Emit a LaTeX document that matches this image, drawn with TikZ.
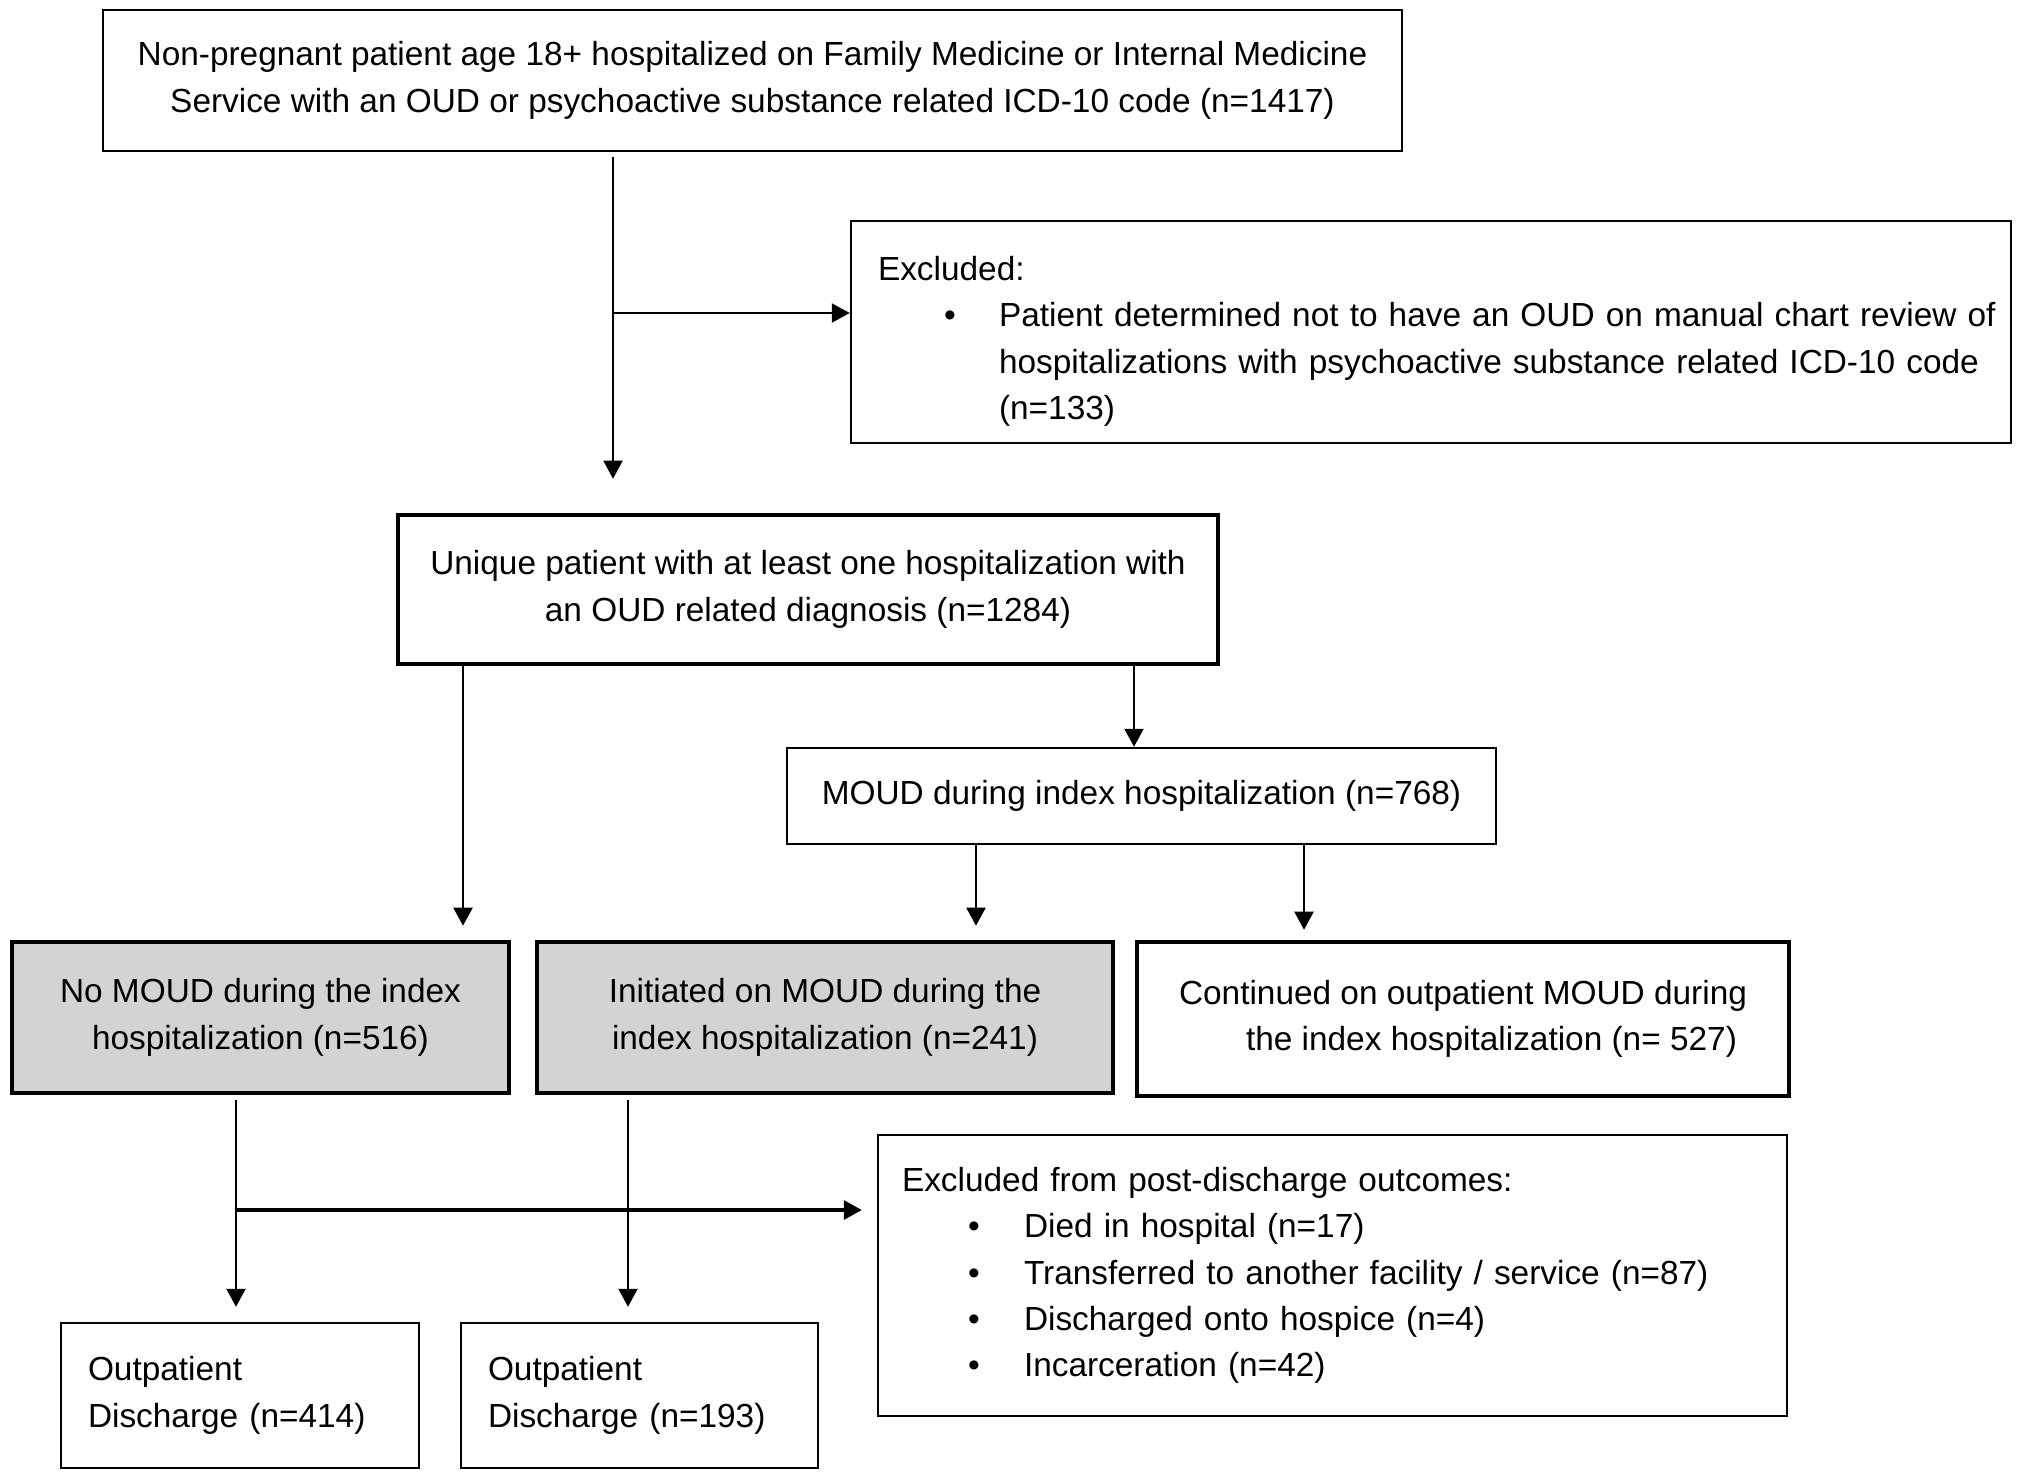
\documentclass[tikz,border=0pt]{standalone}
\usepackage{fontspec}
\setmainfont{Liberation Sans}
\usetikzlibrary{arrows.meta}
\definecolor{boxgray}{RGB}{211,211,211}
\begin{document}
\begin{tikzpicture}[
  box/.style={draw, line width=0.7pt, inner sep=0pt, font=\fontsize{9.5pt}{13.2pt}\selectfont},
  heavy/.style={box, line width=1.3pt},
  arr/.style={draw, line width=0.6pt, -{Triangle[length=1.8mm,width=1.9mm]}}
]
\useasboundingbox (0,0) rectangle (20.21,-14.78);
\node[box, minimum width=12.99cm, minimum height=1.41cm, align=center] (1) at (7.525,-0.805) {Non-pregnant patient age 18+ hospitalized on Family Medicine or Internal Medicine\\Service with an OUD or psychoactive substance related ICD-10 code (n=1417)};
\node[box, minimum width=11.6cm, minimum height=2.22cm, text width=11.06cm, align=left] (2) at (14.31,-3.32) {\rule{0pt}{0.43cm}Excluded:\\\hspace*{0.66cm}\makebox[0.55cm][l]{\textbullet}\mbox{Patient determined not to have an OUD on manual chart review of}\\\hspace*{1.21cm}\mbox{hospitalizations with psychoactive substance related ICD-10 code}\\\hspace*{1.21cm}(n=133)};
\node[heavy, minimum width=8.2cm, minimum height=1.49cm, align=center] (3) at (8.08,-5.895) {Unique patient with at least one hospitalization with\\an OUD related diagnosis (n=1284)};
\node[box, minimum width=7.09cm, minimum height=0.96cm, align=center] (4) at (11.415,-7.96) {MOUD during index hospitalization (n=768)};
\node[heavy, fill=boxgray, minimum width=4.97cm, minimum height=1.51cm, align=center] (5) at (2.605,-10.175) {No MOUD during the index\\hospitalization (n=516)};
\node[heavy, fill=boxgray, minimum width=5.76cm, minimum height=1.51cm, align=center] (6) at (8.25,-10.175) {Initiated on MOUD during the\\index hospitalization (n=241)};
\node[heavy, minimum width=6.52cm, minimum height=1.54cm, align=center] (7) at (14.63,-10.19) {Continued on outpatient MOUD during\\\hspace*{0.57cm}the index hospitalization (n= 527)};
\node[box, minimum width=9.09cm, minimum height=2.81cm, text width=8.61cm, align=left] (8) at (13.325,-12.755) {Excluded from post-discharge outcomes:\\\hspace*{0.66cm}\makebox[0.56cm][l]{\textbullet}Died in hospital (n=17)\\\hspace*{0.66cm}\makebox[0.56cm][l]{\textbullet}Transferred to another facility / service (n=87)\\\hspace*{0.66cm}\makebox[0.56cm][l]{\textbullet}Discharged onto hospice (n=4)\\\hspace*{0.66cm}\makebox[0.56cm][l]{\textbullet}Incarceration (n=42)};
\node[box, minimum width=3.58cm, minimum height=1.45cm, text width=3.04cm, align=left] (9) at (2.4,-13.955) {Outpatient\\Discharge (n=414)};
\node[box, minimum width=3.57cm, minimum height=1.45cm, text width=3.03cm, align=left] (10) at (6.395,-13.955) {Outpatient\\Discharge (n=193)};
% connectors
\coordinate (1a) at ([xshift=-1.395cm,yshift=-0.05cm]1.south);
\coordinate (2a) at ([yshift=0.19cm]2.west);
\path[arr, shorten >=0.34cm] (1a) -- (1a |- 3.north);
\path[arr] (1a |- 2a) -- (2a);
\coordinate (3a) at ([xshift=-3.45cm]3.south);
\coordinate (3b) at ([xshift=3.26cm]3.south);
\path[arr, shorten >=0.14cm] (3a) -- (3a |- 5.north);
\path[arr] (3b) -- (3b |- 4.north);
\coordinate (4a) at ([xshift=-1.655cm]4.south);
\coordinate (4b) at ([xshift=1.625cm]4.south);
\path[arr, shorten >=0.14cm] (4a) -- (4a |- 6.north);
\path[arr, shorten >=0.1cm] (4b) -- (4b |- 7.north);
\coordinate (5a) at ([xshift=-0.245cm,yshift=-0.05cm]5.south);
\coordinate (6a) at ([xshift=-1.97cm,yshift=-0.05cm]6.south);
\coordinate (8a) at ([yshift=0.655cm]8.west);
\path[arr, shorten >=0.15cm] (5a) -- (5a |- 9.north);
\path[arr, shorten >=0.15cm] (6a) -- (6a |- 10.north);
\path[arr, line width=0.9pt, shorten >=0.15cm] (5a |- 8a) -- (8a);
\end{tikzpicture}
\end{document}
